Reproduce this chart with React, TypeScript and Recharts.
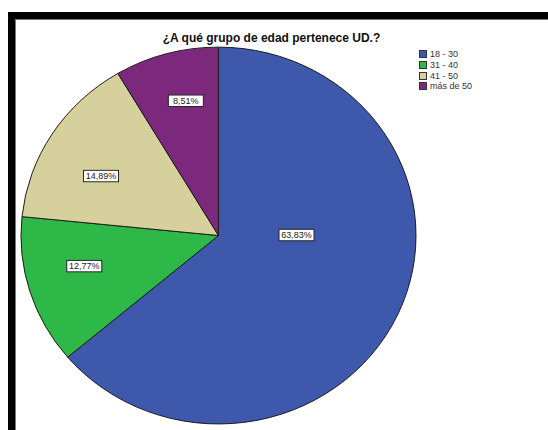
import React from 'react';
import { PieChart, Pie, Cell } from 'recharts';

const categories = ['18 - 30', '31 - 40', '41 - 50', 'más de 50'];
const percentages = [63.83, 12.77, 14.89, 8.51];
const colors = ['#3E58AC', '#2EB848', '#D6D09C', '#7C287D'];
const title = '¿A qué grupo de edad pertenece UD.?';

// label placement style: radius (px) and angle offset from slice mid-angle
const labelRadius = [78, 138, 133, 145];
const labelAngleShift = [25.3, -3.8, 4.6, -2.3];

const data = categories.map((name, i) => ({ name, value: percentages[i] }));

const SCALE_Y = 0.954;
const RAD = Math.PI / 180;

const renderLabel = (props: any) => {
  const { cx, cy, midAngle, index, value } = props;
  const a = (midAngle + labelAngleShift[index]) * RAD;
  const r = labelRadius[index];
  const x = cx + r * Math.cos(a);
  const y = cy - r * Math.sin(a);
  const txt = value.toFixed(2).replace('.', ',') + '%';
  return (
    <g key={'lbl' + index}>
      <rect x={x - 17.5} y={y - 6} width={35} height={12} fill="#ffffff" stroke="#222" strokeWidth={1} />
      <text
        x={x}
        y={y + 0.5}
        textAnchor="middle"
        dominantBaseline="middle"
        fontFamily="'Liberation Sans', Arial, sans-serif"
        fontSize={9}
        fill="#222"
      >
        {txt}
      </text>
    </g>
  );
};

export default function App() {
  return (
    <div
      style={{
        position: 'absolute',
        left: 0,
        top: 0,
        width: 548,
        height: 430,
        overflow: 'hidden',
        background: '#ffffff',
        fontFamily: "'Liberation Sans', Arial, sans-serif",
      }}
    >
      <div style={{ position: 'absolute', left: 8, top: 12, width: 540, height: 7, background: '#000' }} />
      <div style={{ position: 'absolute', left: 8, top: 12, width: 7, height: 418, background: '#000' }} />
      <div style={{ position: 'absolute', left: 15, top: 19, width: 533, height: 1, background: '#777' }} />
      <div style={{ position: 'absolute', left: 15, top: 19, width: 1, height: 411, background: '#777' }} />
      <div
        style={{
          position: 'absolute',
          left: 0,
          top: 0,
          width: 548,
          height: 460,
          transform: `scaleY(${SCALE_Y})`,
          transformOrigin: '0 0',
        }}
      >
        <PieChart width={548} height={460} margin={{ top: 0, right: 0, bottom: 0, left: 0 }}>
          <Pie
            data={data}
            dataKey="value"
            nameKey="name"
            cx={218.5}
            cy={246.9}
            outerRadius={197.5}
            startAngle={90}
            endAngle={-270}
            stroke="#1a1a1a"
            strokeWidth={1}
            label={renderLabel}
            labelLine={false}
            isAnimationActive={false}
          >
            {data.map((d, i) => (
              <Cell key={d.name} fill={colors[i]} />
            ))}
          </Pie>
        </PieChart>
      </div>
      <div
        style={{
          position: 'absolute',
          left: 150,
          width: 243,
          top: 31,
          textAlign: 'center',
          fontWeight: 'bold',
          fontSize: 12,
          color: '#111',
          whiteSpace: 'nowrap',
        }}
      >
        {title}
      </div>
      <div style={{ position: 'absolute', left: 419, top: 49 }}>
        {categories.map((c, i) => (
          <div key={c} style={{ display: 'flex', alignItems: 'center', height: 10.7 }}>
            <div
              style={{
                width: 6,
                height: 6,
                background: colors[i],
                border: '1px solid #333',
                marginRight: 3,
              }}
            />
            <span style={{ fontSize: 9, color: '#333', lineHeight: '10px' }}>{c}</span>
          </div>
        ))}
      </div>
    </div>
  );
}
